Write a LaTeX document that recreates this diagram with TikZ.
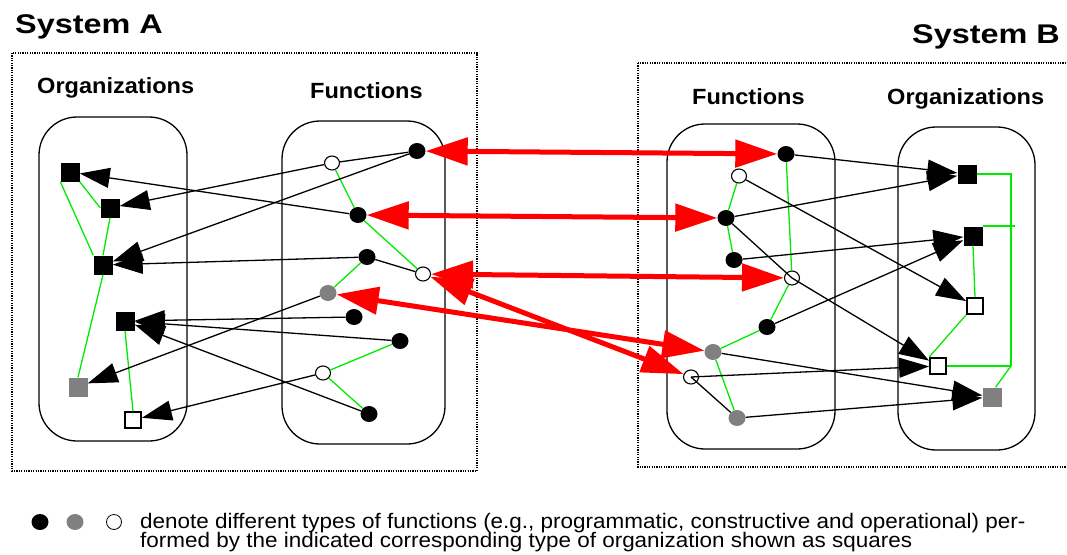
\documentclass[tikz,border=0pt]{standalone}
\usepackage{fontspec}
\setmainfont{Liberation Sans}
\newfontfamily\titlefont[FakeStretch=1.2]{Liberation Sans}
\newfontfamily\labfont[FakeStretch=1.07]{Liberation Sans}
\newfontfamily\legfont[FakeStretch=1.07]{Liberation Sans}
\usetikzlibrary{arrows.meta,shapes.geometric}
\definecolor{gr}{RGB}{128,128,128}
\definecolor{gn}{RGB}{0,235,0}
\definecolor{rd}{RGB}{255,0,0}
\tikzset{
  bk/.style={ellipse,fill=black,minimum width=17pt,minimum height=16pt,inner sep=0pt},
  gy/.style={ellipse,fill=gr,minimum width=17pt,minimum height=16pt,inner sep=0pt},
  wh/.style={ellipse,draw=black,fill=white,line width=1.1pt,minimum width=15pt,minimum height=14pt,inner sep=0pt},
  sqb/.style={rectangle,fill=black,minimum size=19pt,inner sep=0pt},
  sqg/.style={rectangle,fill=gr,minimum size=19pt,inner sep=0pt},
  sqw/.style={rectangle,draw=black,fill=white,line width=1.8pt,minimum size=16pt,inner sep=0pt},
  arr/.style={draw=black,line width=1.3pt,-{Triangle[length=30pt,width=20pt]}},
  plain/.style={draw=black,line width=1.3pt},
  gline/.style={draw=gn,line width=1.3pt},
  gbus/.style={draw=gn,line width=1.8pt},
  redarr/.style={draw=rd,line width=5pt,{Triangle[length=42pt,width=27pt]}-{Triangle[length=42pt,width=27pt]}},
  sysbox/.style={draw=black,line width=1.6pt,dash pattern=on 1.2pt off 1.2pt},
  grp/.style={draw=black,line width=1.3pt,rounded corners=38pt},
  title/.style={inner sep=0pt,anchor=base west,font=\titlefont\bfseries\fontsize{27}{30}\selectfont},
  lab/.style={inner sep=0pt,anchor=base west,font=\labfont\bfseries\fontsize{22}{24}\selectfont},
  leg/.style={inner sep=0pt,anchor=base west,font=\legfont\fontsize{21}{19}\selectfont}
}
\begin{document}
\begin{tikzpicture}[x=1pt,y=-1pt]
\useasboundingbox (0,0) rectangle (1067,554);
% system frames
\draw[sysbox] (12,53) rectangle (477,471);
\draw[sysbox] (638,63) rectangle (1072,467);
% titles
\node[title] (tA) at (15,33) {System A};
\node[title] (tB) at (912,43) {System B};
\node[lab] (oA) at (37,93) {Organizations};
\node[lab] (fA) at (310,98) {Functions};
\node[lab] (fB) at (692,104) {Functions};
\node[lab] (oB) at (887,104) {Organizations};
% group boxes
\draw[grp] (39,117) rectangle (187,441);
\draw[grp] (282,121) rectangle (445,444);
\draw[grp] (667,124) rectangle (835,449);
\draw[grp] (898,127) rectangle (1035,450);
% organizations A
\node[sqb] (S1) at (70,172) {};
\node[sqb] (S2) at (110,208) {};
\node[sqb] (S3) at (103,265) {};
\node[sqb] (S4) at (125,321) {};
\node[sqg] (S5) at (78,387) {};
\node[sqw] (S6) at (133,420) {};
% functions A
\node[bk] (F1) at (417,151) {};
\node[wh] (F2) at (332,163) {};
\node[bk] (F3) at (358,215) {};
\node[bk] (F4) at (367,257) {};
\node[wh] (F5) at (423,274) {};
\node[gy] (F6) at (328,293) {};
\node[bk] (F7) at (354,317) {};
\node[bk] (F8) at (400,341) {};
\node[wh] (F9) at (323,373) {};
\node[bk] (F10) at (369,414) {};
% functions B
\node[bk] (G1) at (786,154) {};
\node[wh] (G2) at (739,176) {};
\node[bk] (G3) at (726,218) {};
\node[bk] (G4) at (734,260) {};
\node[wh] (G5) at (792,278) {};
\node[bk] (G6) at (767,327) {};
\node[gy] (G7) at (713,352) {};
\node[wh] (G8) at (691,377) {};
\node[gy] (G9) at (737,418) {};
% organizations B
\node[sqb] (T1) at (967,174) {};
\node[sqb] (T2) at (973,236) {};
\node[sqw] (T3) at (975,306) {};
\node[sqw] (T4) at (938,366) {};
\node[sqg] (T5) at (992,397) {};
% green links, organizations A
\draw[gline] (S1.south west) -- (S3.north west);
\draw[gline] (S1.south east) -- (S2.west);
\draw[gline] (S2.south) -- (S3.north);
\draw[gline] (S3.south) -- (S5.north);
\draw[gline] (S4.south) -- (S6.north);
% green links, functions A
\draw[gline] (F2) -- (F3);
\draw[gline] (F3) -- (F5);
\draw[gline] (F4) -- (F6);
\draw[gline] (F9) -- (F8);
\draw[gline] (F9) -- (F10);
% green links, functions B
\draw[gline] (G2) -- (G3);
\draw[gline] (G3) -- (G4);
\draw[gline] (G1) -- (G5);
\draw[gline] (G5) -- (G6);
\draw[gline] (G6) -- (G7);
\draw[gline] (G7) -- (G9);
% green links, organizations B
\coordinate (busT) at (1011,174);
\coordinate (busB) at (1011,366);
\draw[gbus] (T1.east) -- (busT) -- (busB);
\draw[gbus] (T2.north east) -- ++(32,0);
\draw[gbus] (T4.east) -- (busB);
\draw[gline] (busB) -- (T5.70);
\draw[gline] (T2.south) -- (T3.north);
\draw[gline] (T3.south west) -- (T4.north west);
% plain black links inside function groups
\draw[plain] (F1) -- (F2);
\draw[plain] (F4) -- (F5);
\draw[plain] (G3) -- (G5.center);
\draw[plain] (G8.center) -- (G9);
% arrows A
\draw[arr] (F3) -- (S1);
\draw[arr] (F2) -- (S2);
\draw[arr] (F1) -- (S3);
\draw[arr] (F4) -- (S3);
\draw[arr] (F7) -- (S4);
\draw[arr] (F8) -- (S4);
\draw[arr] (F10) -- (S4);
\draw[arr] (F6) -- (S5);
\draw[arr] (F9) -- (S6);
% arrows B
\draw[arr] (G1) -- (T1);
\draw[arr] (G3) -- (T1);
\draw[arr] (G4) -- (T2);
\draw[arr] (G6) -- (T2);
\draw[arr] (G2) -- (T3);
\draw[arr] (G5.center) -- (T4);
\draw[arr] (G8.center) -- (T4);
\draw[arr] (G7) -- (T5);
\draw[arr] (G9) -- (T5);
% red correspondences
\draw[redarr] (F1) -- (G1);
\draw[redarr] (F3) -- (G3);
\draw[redarr] (F5) -- (G5);
\draw[redarr] (F6) -- (G7);
\draw[redarr] (F5) -- (G8);
% legend
\node[bk] (L1) at (40,522) {};
\node[gy] (L2) at (75,522) {};
\node[ellipse,draw=black,fill=white,line width=0.8pt,minimum width=15pt,minimum height=15pt,inner sep=0pt] (L3) at (114,522) {};
\node[leg] (txt1) at (140,528) {denote different types of functions (e.g., programmatic, constructive and operational) per-};
\node[leg] (txt2) at (140,547) {formed by the indicated corresponding type of organization shown as squares};
\end{tikzpicture}
\end{document}
